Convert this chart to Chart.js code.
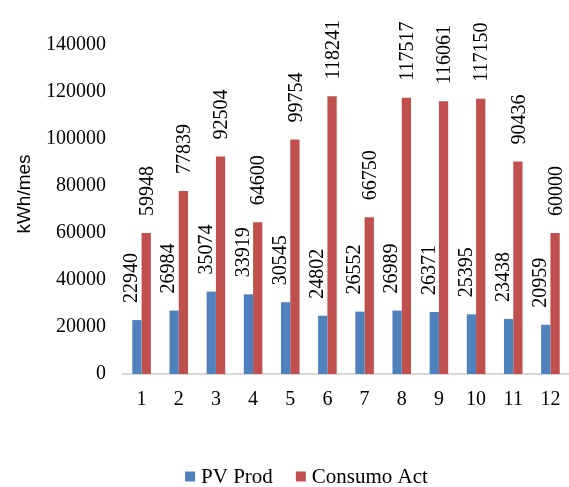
<!DOCTYPE html>
<html>
<head>
<meta charset="utf-8">
<script src="https://cdn.jsdelivr.net/npm/chart.js@4.4.1/dist/chart.umd.min.js"></script>
<style>
  html, body { margin: 0; padding: 0; background: #ffffff; }
  #wrap { width: 569px; height: 487px; position: relative; overflow: hidden; }
</style>
</head>
<body>
<div id="wrap"><canvas id="c" width="569" height="487"></canvas></div>
<script>
const categories = ["1","2","3","4","5","6","7","8","9","10","11","12"];
const pvProd = [22940, 26984, 35074, 33919, 30545, 24802, 26552, 26989, 26371, 25395, 23438, 20959];
const consumoAct = [59948, 77839, 92504, 64600, 99754, 118241, 66750, 117517, 116061, 117150, 90436, 60000];
const seriesNames = ["PV Prod", "Consumo Act"];
const yTitle = "kWh/mes";
const yMin = 0, yMax = 140000, yStep = 20000;

const SERIF = '"Liberation Serif", "Times New Roman", serif';
const SANS = '"Liberation Sans", Arial, sans-serif';
const colors = ["#4F81BD", "#C0504D"];

const valueLabels = {
  id: 'valueLabels',
  afterDatasetsDraw(chart) {
    const ctx = chart.ctx;
    const offsets = [-5, 1.5];
    ctx.save();
    ctx.font = '20px ' + SERIF;
    ctx.fillStyle = '#000';
    ctx.textAlign = 'left';
    ctx.textBaseline = 'middle';
    chart.data.datasets.forEach((ds, di) => {
      const meta = chart.getDatasetMeta(di);
      meta.data.forEach((el, i) => {
        ctx.save();
        ctx.translate(el.x + offsets[di], el.y - 17);
        ctx.rotate(-Math.PI / 2);
        ctx.fillText(String(ds.data[i]), 0, 0);
        ctx.restore();
      });
    });
    ctx.restore();
  }
};

const axisTitle = {
  id: 'axisTitle',
  afterDraw(chart) {
    const ctx = chart.ctx;
    ctx.save();
    ctx.font = '19px ' + SANS;
    ctx.fillStyle = '#000';
    ctx.textAlign = 'center';
    ctx.textBaseline = 'middle';
    ctx.translate(25, 194);
    ctx.rotate(-Math.PI / 2);
    ctx.fillText(yTitle, 0, 0);
    ctx.restore();
  }
};

const customLegend = {
  id: 'customLegend',
  afterDraw(chart) {
    const ctx = chart.ctx;
    ctx.save();
    ctx.font = '21px ' + SERIF;
    const box = 10, gapText = 6, gapItem = 23;
    const widths = chart.data.datasets.map(d => ctx.measureText(d.label).width);
    let total = 0;
    widths.forEach((w, i) => { total += box + gapText + w + (i < widths.length - 1 ? gapItem : 0); });
    let x = 306.5 - total / 2;
    const baseY = 483;
    chart.data.datasets.forEach((d, i) => {
      ctx.fillStyle = d.backgroundColor;
      ctx.fillRect(x, baseY - 11.5, box, box);
      ctx.fillStyle = '#000';
      ctx.font = '21px ' + SERIF;
      ctx.textAlign = 'left';
      ctx.textBaseline = 'alphabetic';
      ctx.fillText(d.label, x + box + gapText, baseY);
      x += box + gapText + widths[i] + gapItem;
    });
    ctx.restore();
  }
};

new Chart(document.getElementById('c'), {
  type: 'bar',
  data: {
    labels: categories,
    datasets: [
      { label: seriesNames[0], data: pvProd, backgroundColor: colors[0], borderWidth: 0 },
      { label: seriesNames[1], data: consumoAct, backgroundColor: colors[1], borderWidth: 0 }
    ]
  },
  options: {
    responsive: false,
    animation: false,
    devicePixelRatio: 1,
    layout: { padding: { left: 0, right: -3, top: 45, bottom: 0 } },
    datasets: { bar: { categoryPercentage: 0.5, barPercentage: 1.0 } },
    plugins: {
      legend: { display: false },
      tooltip: { enabled: false },
      title: { display: false }
    },
    scales: {
      x: {
        grid: { display: true, color: 'transparent', drawTicks: false },
        border: { display: true, color: '#D9D9D9', width: 2 },
        ticks: { font: { family: SERIF, size: 20 }, color: '#000', padding: 14, maxRotation: 0, autoSkip: false },
        afterFit(scale) { scale.height = 113; scale.paddingLeft = 0; scale.paddingRight = 0; }
      },
      y: {
        min: yMin, max: yMax,
        grid: { display: false, drawTicks: false },
        border: { display: false },
        ticks: { stepSize: yStep, font: { family: SERIF, size: 20 }, color: '#000', padding: 17,
                 callback: (v) => String(v) },
        afterFit(scale) { scale.width = 123; scale.paddingTop = 0; scale.paddingBottom = 0; }
      }
    }
  },
  plugins: [valueLabels, axisTitle, customLegend]
});
</script>
</body>
</html>
